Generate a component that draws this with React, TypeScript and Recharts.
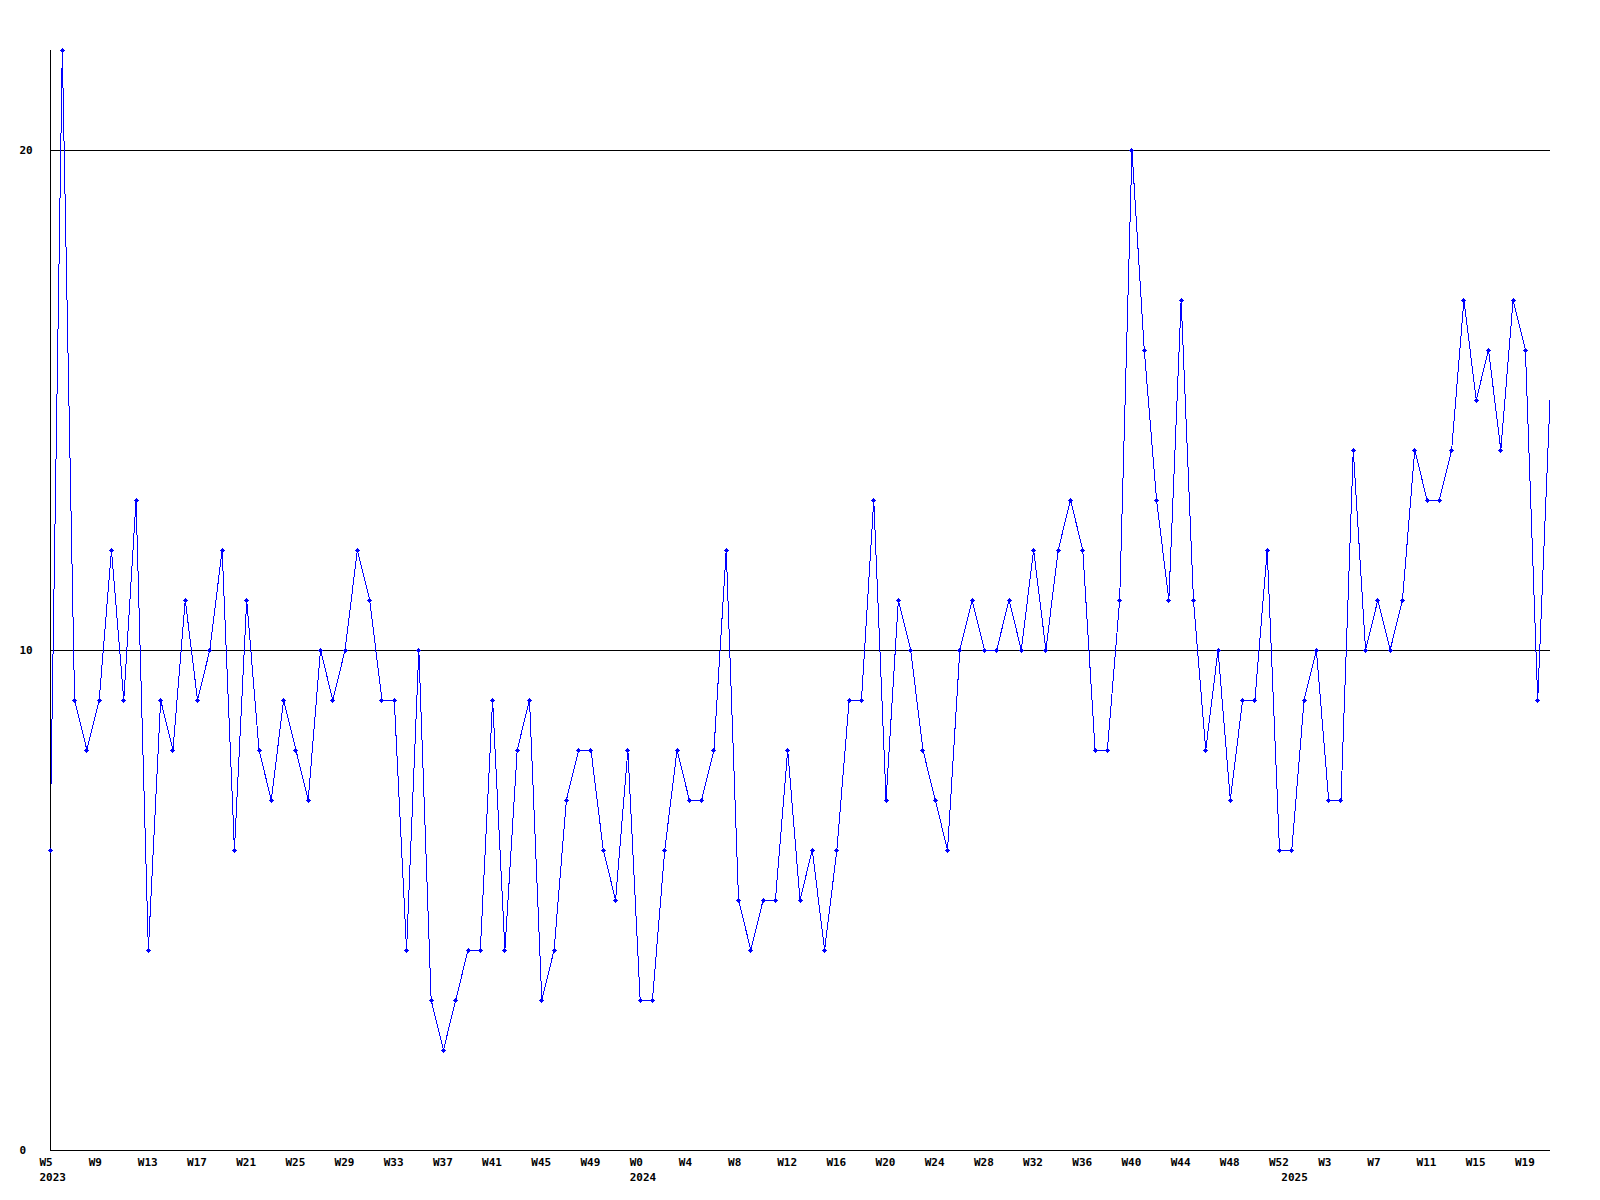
import { LineChart, Line, XAxis, YAxis, CartesianGrid } from "recharts";

// weekly counts
const yearSpans = [
  { year: 2023, firstWeek: 5, lastWeek: 52 },
  { year: 2024, firstWeek: 0, lastWeek: 52 },
  { year: 2025, firstWeek: 0, lastWeek: 21 },
];

const counts2023 = [
  6, 22, 9, 8, 9, 12, 9, 13, 4, 9,
  8, 11, 9, 10, 12, 6, 11, 8, 7, 9,
  8, 7, 10, 9, 10, 12, 11, 9, 9, 4,
  10, 3, 2, 3, 4, 4, 9, 4, 8, 9,
  3, 4, 7, 8, 8, 6, 5, 8,
];

const counts2024 = [
  3, 3, 6, 8, 7, 7, 8, 12, 5, 4,
  5, 5, 8, 5, 6, 4, 6, 9, 9, 13,
  7, 11, 10, 8, 7, 6, 10, 11, 10, 10,
  11, 10, 12, 10, 12, 13, 12, 8, 8, 11,
  20, 16, 13, 11, 17, 11, 8, 10, 7, 9,
  9, 12, 6,
];

const counts2025 = [
  6, 9, 10, 7, 7, 14, 10, 11, 10, 11,
  14, 13, 13, 14, 17, 15, 16, 14, 17, 16,
  9, 15,
];

const countsByYear = [counts2023, counts2024, counts2025];
const yTicks = [0, 10, 20];
const labelEvery = 4;

type Row = { i: number; year: number; week: number; count: number; firstOfYear: boolean };

const data: Row[] = [];
yearSpans.forEach((s, k) => {
  countsByYear[k].forEach((c, j) => {
    data.push({ i: data.length, year: s.year, week: s.firstWeek + j, count: c, firstOfYear: j === 0 });
  });
});

const xTicks = data.filter((d) => d.i % labelEvery === 0 || d.firstOfYear).map((d) => d.i);

const FONT = "'DejaVu Sans Mono', monospace";
const BLUE = "#0000ff";

function WeekTick(props: any) {
  const { x, y, payload } = props;
  const row = data[payload.value];
  if (!row) return null;
  return (
    <g>
      {row.i % labelEvery === 0 && (
        <text x={x - 10.5} y={y + 16} textAnchor="start" fontFamily={FONT} fontWeight="bold" fontSize={11} fill="#000">
          {"W" + row.week}
        </text>
      )}
      {row.firstOfYear && (
        <text x={x - 10.5} y={y + 31} textAnchor="start" fontFamily={FONT} fontWeight="bold" fontSize={11} fill="#000">
          {row.year}
        </text>
      )}
    </g>
  );
}

function CountTick(props: any) {
  const { x, y, payload } = props;
  return (
    <text x={x - 30.5} y={y + 4} textAnchor="start" fontFamily={FONT} fontWeight="bold" fontSize={11} fill="#000">
      {payload.value}
    </text>
  );
}

function PlusDot(props: any) {
  const { cx, cy, index } = props;
  if (index === data.length - 1 || cx == null) return <g key={index} />;
  return (
    <g key={index}>
      <path d={`M${cx - 2.5},${cy} h5 M${cx},${cy - 2.5} v5`} stroke={BLUE} strokeWidth={1} fill="none" />
      <rect x={cx - 1.5} y={cy - 1.5} width={3} height={3} fill={BLUE} />
    </g>
  );
}

export default function App() {
  return (
    <div style={{ position: "absolute", left: 0, top: 0, background: "#fff", shapeRendering: "crispEdges" } as any}>
      <LineChart width={1600} height={1200} data={data} margin={{ top: 50, right: 50, bottom: 0, left: 0 }}>
        <CartesianGrid vertical={false} stroke="#000" strokeWidth={1} horizontalValues={[10, 20]} />
        <XAxis
          type="number"
          dataKey="i"
          domain={[0, data.length - 1]}
          ticks={xTicks}
          interval={0}
          height={50}
          tickSize={0}
          tickMargin={0}
          tickLine={false}
          axisLine={{ stroke: "#000", strokeWidth: 1 }}
          tick={<WeekTick />}
        />
        <YAxis
          type="number"
          domain={[0, 22]}
          ticks={yTicks}
          width={50}
          tickSize={0}
          tickMargin={0}
          tickLine={false}
          axisLine={{ stroke: "#000", strokeWidth: 1 }}
          tick={<CountTick />}
        />
        <Line
          type="linear"
          dataKey="count"
          stroke={BLUE}
          strokeWidth={1}
          dot={<PlusDot />}
          activeDot={false}
          isAnimationActive={false}
        />
      </LineChart>
    </div>
  );
}
